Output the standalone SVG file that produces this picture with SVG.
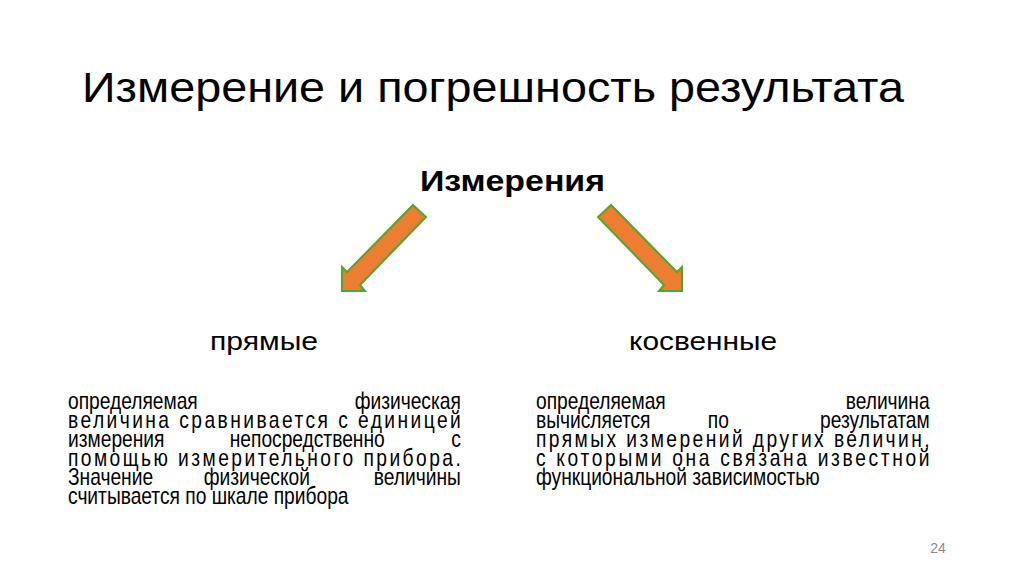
<svg xmlns="http://www.w3.org/2000/svg" width="1024" height="574" viewBox="0 0 1024 574">
<style>
text{font-family:"Liberation Sans",Arial,sans-serif;fill:#000}
.b{font-size:24px}
.arr{fill:#ED7D31;stroke:#4EA72E;stroke-width:2;stroke-linejoin:miter}
</style>
<rect width="1024" height="574" fill="#fff"/>
<text x="82" y="102" font-size="43" textLength="822" lengthAdjust="spacingAndGlyphs">Измерение и погрешность результата</text>
<g id="root"><text x="420" y="191" font-size="29" font-weight="bold" textLength="185" lengthAdjust="spacingAndGlyphs">Измерения</text></g>
<g id="connectors">
<polygon class="arr" points="413,205 426,217 360,285 365,291 342,291 342,267 347,272"/>
<polygon class="arr" points="611,205 598,217 664,285 659,291 682,291 682,267 677,272"/>
</g>
<g id="direct">
<text x="210" y="350" font-size="26" textLength="108" lengthAdjust="spacingAndGlyphs">прямые</text>
<g class="b" transform="translate(68,0) scale(0.8,1)">
<text x="0" y="409">определяемая</text><text x="491" y="409" text-anchor="end">физическая</text>
<text x="0" y="428" textLength="491" lengthAdjust="spacing">величина сравнивается с единицей</text>
<text x="0" y="447">измерения</text><text x="299" y="447" text-anchor="middle">непосредственно</text><text x="491" y="447" text-anchor="end">с</text>
<text x="0" y="466" textLength="491" lengthAdjust="spacing">помощью измерительного прибора.</text>
<text x="0" y="485">Значение</text><text x="236" y="485" text-anchor="middle">физической</text><text x="491" y="485" text-anchor="end">величины</text>
<text x="0" y="504">считывается по шкале прибора</text>
</g>
</g>
<g id="indirect">
<text x="629" y="350" font-size="26" textLength="148" lengthAdjust="spacingAndGlyphs">косвенные</text>
<g class="b" transform="translate(536,0) scale(0.8,1)">
<text x="0" y="409">определяемая</text><text x="492" y="409" text-anchor="end">величина</text>
<text x="0" y="428">вычисляется</text><text x="228" y="428" text-anchor="middle">по</text><text x="492" y="428" text-anchor="end">результатам</text>
<text x="0" y="447" textLength="492" lengthAdjust="spacing">прямых измерений других величин,</text>
<text x="0" y="466" textLength="492" lengthAdjust="spacing">с которыми она связана известной</text>
<text x="0" y="485">функциональной зависимостью</text>
</g>
</g>
<text x="938" y="553" font-size="14" style="fill:#888" text-anchor="middle">24</text>
</svg>
